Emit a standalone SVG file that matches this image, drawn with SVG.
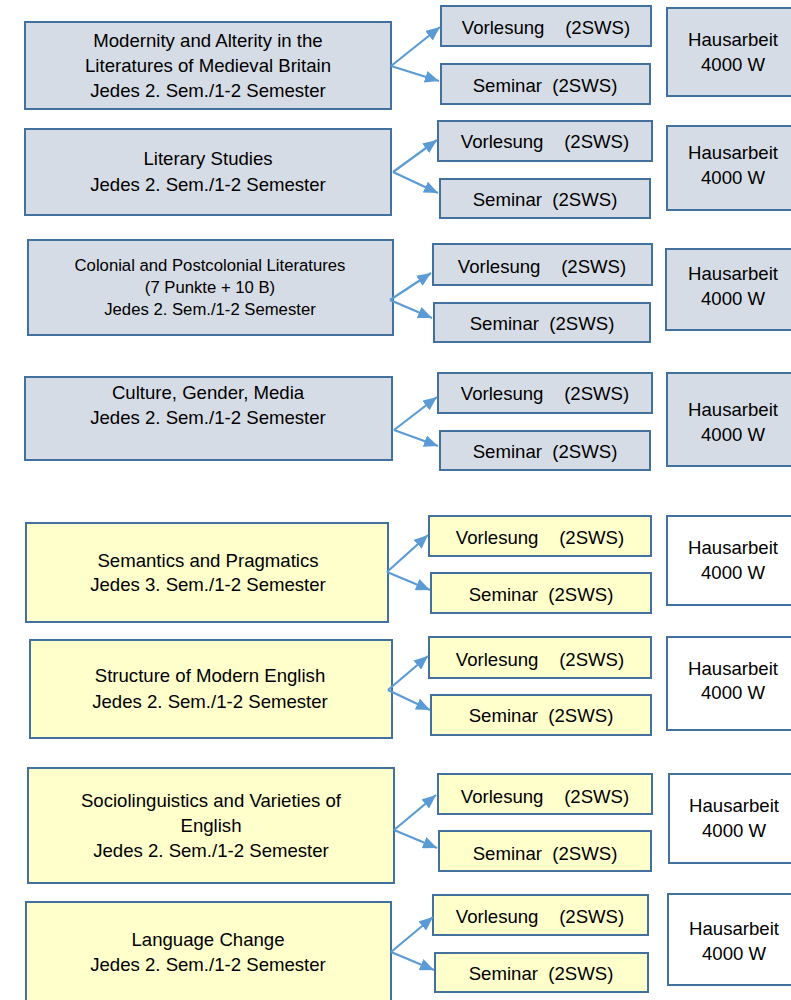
<svg xmlns="http://www.w3.org/2000/svg" width="791" height="1000" viewBox="0 0 791 1000">
<style>
text{font-family:"Liberation Sans",Arial,sans-serif;font-size:18.6px;fill:#000;text-anchor:middle;white-space:pre}
.sm{font-size:16.7px}
rect{stroke:#41719C;stroke-width:2}
.b{fill:#D6DCE5}
.y{fill:#FFFFCC}
.w{fill:#FFFFFF}
.c line{stroke:#5B9BD5;stroke-width:2.2;marker-end:url(#ah)}
</style>
<defs>
<marker id="ah" markerUnits="userSpaceOnUse" markerWidth="15" markerHeight="12" refX="14" refY="6" orient="auto">
<path d="M0,0 L14,6 L0,12 Z" fill="#5B9BD5"/>
</marker>
</defs>
<g id="m1"><rect class="b" x="25" y="22" width="366" height="87"/><text x="208" y="47">Modernity and Alterity in the</text><text x="208" y="72">Literatures of Medieval Britain</text><text x="208" y="97">Jedes 2. Sem./1-2 Semester</text></g>
<g id="v1"><rect class="b" x="441" y="6" width="210" height="40"/><text x="546" y="34" xml:space="preserve">Vorlesung    (2SWS)</text></g>
<g id="s1"><rect class="b" x="441" y="64" width="209" height="40"/><text x="545" y="92" xml:space="preserve">Seminar  (2SWS)</text></g>
<g id="h1"><rect class="b" x="667" y="8" width="130" height="88"/><text x="733" y="46">Hausarbeit</text><text x="733" y="71">4000 W</text></g>

<g id="m2"><rect class="b" x="25" y="129" width="366" height="86"/><text x="208" y="165">Literary Studies</text><text x="208" y="191">Jedes 2. Sem./1-2 Semester</text></g>
<g id="v2"><rect class="b" x="438" y="121" width="214" height="40"/><text x="545" y="148" xml:space="preserve">Vorlesung    (2SWS)</text></g>
<g id="s2"><rect class="b" x="440" y="179" width="210" height="39"/><text x="545" y="206" xml:space="preserve">Seminar  (2SWS)</text></g>
<g id="h2"><rect class="b" x="667" y="126" width="130" height="84"/><text x="733" y="159">Hausarbeit</text><text x="733" y="184">4000 W</text></g>

<g id="m3"><rect class="b" x="28" y="240" width="365" height="95"/><text class="sm" x="210" y="271">Colonial and Postcolonial Literatures</text><text class="sm" x="210" y="293">(7 Punkte + 10 B)</text><text class="sm" x="210" y="315">Jedes 2. Sem./1-2 Semester</text></g>
<g id="v3"><rect class="b" x="433" y="244" width="219" height="41"/><text x="542" y="273" xml:space="preserve">Vorlesung    (2SWS)</text></g>
<g id="s3"><rect class="b" x="434" y="303" width="216" height="39"/><text x="542" y="330" xml:space="preserve">Seminar  (2SWS)</text></g>
<g id="h3"><rect class="b" x="666" y="249" width="130" height="81"/><text x="733" y="280">Hausarbeit</text><text x="733" y="305">4000 W</text></g>

<g id="m4"><rect class="b" x="25" y="377" width="367" height="83"/><text x="208" y="399">Culture, Gender, Media</text><text x="208" y="424">Jedes 2. Sem./1-2 Semester</text></g>
<g id="v4"><rect class="b" x="438" y="373" width="214" height="40"/><text x="545" y="400" xml:space="preserve">Vorlesung    (2SWS)</text></g>
<g id="s4"><rect class="b" x="440" y="431" width="210" height="39"/><text x="545" y="458" xml:space="preserve">Seminar  (2SWS)</text></g>
<g id="h4"><rect class="b" x="667" y="373" width="130" height="93"/><text x="733" y="416">Hausarbeit</text><text x="733" y="441">4000 W</text></g>

<g id="m5"><rect class="y" x="26" y="523" width="362" height="99"/><text x="208" y="567">Semantics and Pragmatics</text><text x="208" y="591">Jedes 3. Sem./1-2 Semester</text></g>
<g id="v5"><rect class="y" x="429" y="516" width="222" height="40"/><text x="540" y="544" xml:space="preserve">Vorlesung    (2SWS)</text></g>
<g id="s5"><rect class="y" x="431" y="573" width="220" height="40"/><text x="541" y="601" xml:space="preserve">Seminar  (2SWS)</text></g>
<g id="h5"><rect class="w" x="667" y="516" width="130" height="89"/><text x="733" y="554">Hausarbeit</text><text x="733" y="579">4000 W</text></g>

<g id="m6"><rect class="y" x="30" y="640" width="362" height="98"/><text x="210" y="682">Structure of Modern English</text><text x="210" y="708">Jedes 2. Sem./1-2 Semester</text></g>
<g id="v6"><rect class="y" x="429" y="637" width="222" height="41"/><text x="540" y="666" xml:space="preserve">Vorlesung    (2SWS)</text></g>
<g id="s6"><rect class="y" x="431" y="695" width="220" height="40"/><text x="541" y="722" xml:space="preserve">Seminar  (2SWS)</text></g>
<g id="h6"><rect class="w" x="667" y="637" width="130" height="93"/><text x="733" y="675">Hausarbeit</text><text x="733" y="699">4000 W</text></g>

<g id="m7"><rect class="y" x="28" y="768" width="366" height="115"/><text x="211" y="807">Sociolinguistics and Varieties of</text><text x="211" y="832">English</text><text x="211" y="857">Jedes 2. Sem./1-2 Semester</text></g>
<g id="v7"><rect class="y" x="438" y="774" width="214" height="40"/><text x="545" y="803" xml:space="preserve">Vorlesung    (2SWS)</text></g>
<g id="s7"><rect class="y" x="439" y="831" width="212" height="40"/><text x="545" y="860" xml:space="preserve">Seminar  (2SWS)</text></g>
<g id="h7"><rect class="w" x="669" y="774" width="130" height="89"/><text x="734" y="812">Hausarbeit</text><text x="734" y="837">4000 W</text></g>

<g id="m8"><rect class="y" x="26" y="902" width="365" height="110"/><text x="208" y="946">Language Change</text><text x="208" y="971">Jedes 2. Sem./1-2 Semester</text></g>
<g id="v8"><rect class="y" x="433" y="895" width="215" height="40"/><text x="540" y="923" xml:space="preserve">Vorlesung    (2SWS)</text></g>
<g id="s8"><rect class="y" x="435" y="953" width="213" height="39"/><text x="541" y="980" xml:space="preserve">Seminar  (2SWS)</text></g>
<g id="h8"><rect class="w" x="668" y="894" width="130" height="91"/><text x="734" y="935">Hausarbeit</text><text x="734" y="960">4000 W</text></g>

<g id="connectors" class="c">
<line x1="391" y1="66" x2="440" y2="27"/><line x1="391" y1="66" x2="439" y2="81"/>
<line x1="393" y1="172" x2="437" y2="140"/><line x1="393" y1="172" x2="438" y2="193"/>
<line x1="390" y1="300" x2="431" y2="273"/><line x1="390" y1="300" x2="432" y2="318"/>
<line x1="394" y1="430" x2="437" y2="397"/><line x1="394" y1="430" x2="438" y2="446"/>
<line x1="387" y1="572" x2="428" y2="535"/><line x1="387" y1="572" x2="430" y2="590"/>
<line x1="388" y1="690" x2="428" y2="656"/><line x1="388" y1="690" x2="430" y2="710"/>
<line x1="394" y1="830" x2="436" y2="795"/><line x1="394" y1="830" x2="437" y2="848"/>
<line x1="391" y1="952" x2="433" y2="917"/><line x1="391" y1="952" x2="434" y2="970"/>
</g>
</svg>
